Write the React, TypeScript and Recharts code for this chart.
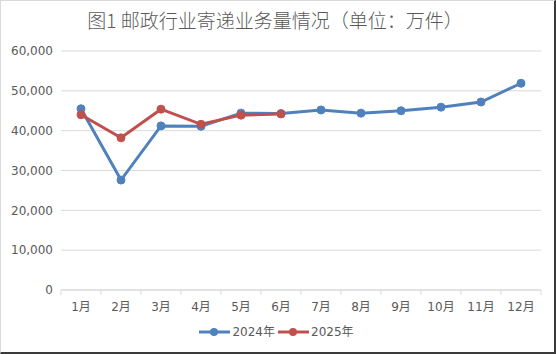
import { LineChart, Line, XAxis, YAxis, CartesianGrid } from "recharts";

const months = ["1月", "2月", "3月", "4月", "5月", "6月", "7月", "8月", "9月", "10月", "11月", "12月"];
const y2024 = [45500, 27600, 41200, 41100, 44400, 44300, 45200, 44400, 45000, 45900, 47200, 51900];
const y2025: (number | null)[] = [44000, 38200, 45400, 41600, 43900, 44200, null, null, null, null, null, null];
const yTicks = [0, 10000, 20000, 30000, 40000, 50000, 60000];

const BLUE = "#4f81bd";
const RED = "#c0504d";
const TEXT = "#595959";
const GRID = "#d9d9d9";
const FONT = "'DejaVu Sans', 'Noto Sans CJK SC', sans-serif";

const data = months.map((m, i) => ({ month: m, a: y2024[i], b: y2025[i] }));

const AXIS_Y = 290;
const HALF = 20;

function MonthTick(props: any) {
  const { x, payload, index } = props;
  const last = index === months.length - 1;
  return (
    <g>
      <line x1={x - HALF} y1={AXIS_Y} x2={x - HALF} y2={AXIS_Y + 5} stroke={GRID} />
      {last && <line x1={x + HALF} y1={AXIS_Y} x2={x + HALF} y2={AXIS_Y + 5} stroke={GRID} />}
      <text x={x} y={AXIS_Y + 21} textAnchor="middle" fill={TEXT} fontSize={12} fontFamily={FONT}>
        {payload.value}
      </text>
    </g>
  );
}

function LegendItem({ color, label }: { color: string; label: string }) {
  return (
    <span style={{ display: "inline-flex", alignItems: "center", marginRight: 3 }}>
      <svg width={31} height={10} style={{ marginRight: 2 }}>
        <line x1={0} y1={5} x2={31} y2={5} stroke={color} strokeWidth={3} />
        <circle cx={15} cy={5} r={4} fill={color} />
      </svg>
      <span>{label}</span>
    </span>
  );
}

export default function App() {
  return (
    <div style={{ position: "fixed", left: 0, top: 0, width: 556, height: 354, background: "#fff", fontFamily: FONT }}>
      <div
        style={{
          position: "absolute",
          left: 0,
          top: 6,
          width: 550,
          textAlign: "center",
          fontSize: 19,
          color: TEXT,
          fontFamily: "'Noto Sans CJK SC', sans-serif",
          fontWeight: 300,
          lineHeight: "28px",
        }}
      >
        图1 邮政行业寄递业务量情况（单位：万件）
      </div>
      <LineChart width={556} height={354} data={data} margin={{ top: 51, right: 15, bottom: 34, left: 0 }}>
        <CartesianGrid vertical={false} stroke={GRID} />
        <XAxis
          dataKey="month"
          padding={{ left: HALF, right: HALF }}
          tickLine={false}
          axisLine={{ stroke: GRID }}
          tick={<MonthTick />}
          interval={0}
          height={30}
        />
        <YAxis
          domain={[0, 60000]}
          ticks={yTicks}
          width={61}
          axisLine={false}
          tickLine={false}
          tickFormatter={(v: number) => v.toLocaleString("en-US")}
          tick={{ fill: TEXT, fontSize: 12, fontFamily: FONT }}
        />
        <Line
          dataKey="a"
          name="2024年"
          stroke={BLUE}
          strokeWidth={3}
          dot={{ r: 4, fill: BLUE, stroke: BLUE, strokeWidth: 1 }}
          isAnimationActive={false}
        />
        <Line
          dataKey="b"
          name="2025年"
          stroke={RED}
          strokeWidth={3}
          dot={{ r: 4, fill: RED, stroke: RED, strokeWidth: 1 }}
          isAnimationActive={false}
        />
      </LineChart>
      <div
        style={{
          position: "absolute",
          left: 0,
          top: 324,
          width: 556,
          display: "flex",
          justifyContent: "center",
          fontSize: 12,
          color: TEXT,
          lineHeight: "16px",
        }}
      >
        <LegendItem color={BLUE} label="2024年" />
        <LegendItem color={RED} label="2025年" />
      </div>
      <div
        style={{
          position: "absolute",
          inset: 0,
          borderTop: "1px solid #d9d9d9",
          borderLeft: "1px solid #d9d9d9",
          borderRight: "2px solid #3a3a3a",
          borderBottom: "2px solid #3a3a3a",
          boxSizing: "border-box",
          pointerEvents: "none",
        }}
      />
    </div>
  );
}
